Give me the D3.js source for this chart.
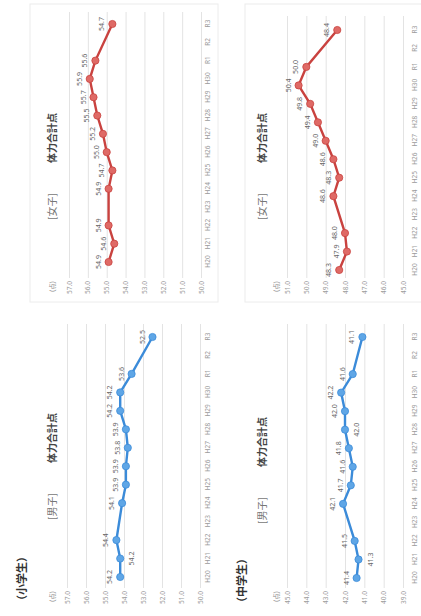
<!DOCTYPE html>
<html lang="ja">
<head>
<meta charset="UTF-8">
<title></title>
<style type="text/css">
  body { margin:0; background:#fff; }
  svg { display:block; font-family:"Noto Sans CJK JP", "Noto Sans", sans-serif; }
  .grid line { stroke:#e3e3e3; }
  .grid text, .xAxis text { fill:#9b9b9b; font-size:6.5px; font-family:"Noto Sans", sans-serif; }
  .val { fill:#666; font-size:7px; font-family:"Noto Sans", sans-serif; }
</style>
</head>
<body>
<script src="https://d3js.org/d3.v7.min.js"></script>
<script>
    // survey years (no survey in H23 and R2)
    var categories = ['H20','H21','H22','H23','H24','H25','H26','H27','H28','H29','H30','R1','R2','R3'];

    var elemBoys    = [54.2, 54.2, 54.4, null, 54.1, 53.9, 53.9, 53.8, 53.9, 54.2, 54.2, 53.6, null, 52.5];
    var elemGirls   = [54.9, 54.6, 54.9, null, 54.9, 54.7, 55.0, 55.2, 55.5, 55.7, 55.9, 55.6, null, 54.7];
    var juniorBoys  = [41.4, 41.3, 41.5, null, 42.1, 41.7, 41.6, 41.8, 42.0, 42.0, 42.2, 41.6, null, 41.1];
    var juniorGirls = [48.3, 47.9, 48.0, null, 48.6, 48.3, 48.6, 49.0, 49.4, 49.8, 50.4, 50.0, null, 48.4];

    var elemTicks       = [50, 51, 52, 53, 54, 55, 56, 57];
    var juniorBoyTicks  = [39, 40, 41, 42, 43, 44, 45];
    var juniorGirlTicks = [45, 46, 47, 48, 49, 50, 51];

    var width = 421,
        height = 616,
        svg = d3.select('body').append('svg')
                .attr('width', width)
                .attr('height', height);

    // the scanned page lies on its side: draw it upright, then turn it
    var page = svg.append('g')
        .attr('transform', 'translate(0,' + height + ') rotate(-90)');

    var blue = { line:'#3b8bd9', dot:'#5fa6e6' },
        red  = { line:'#c9423f', dot:'#df6a66' };

    var charts = [
        { values: elemBoys, ticks: elemTicks, sex: '[男子]', col: blue, below: ['H21'],
          x0: 39, x1: 279, gx0: 28, gx1: 292, yTop: 67, yBot: 200, axisY: 205, titleX: 96, titleY: 56, unitY: 55, boxTop: 0 },
        { values: elemGirls, ticks: elemTicks, sex: '[女子]', col: red, below: [],
          x0: 354, x1: 592, gx0: 338, gx1: 604, yTop: 69, yBot: 201, axisY: 205, titleX: 396, titleY: 56, unitY: 55, boxTop: 30 },
        { values: juniorBoys, ticks: juniorBoyTicks, sex: '[男子]', col: blue, below: ['H21', 'H28'],
          x0: 38, x1: 279, gx0: 28, gx1: 292, yTop: 287, yBot: 403, axisY: 412, titleX: 92, titleY: 266, unitY: 279, boxTop: 0 },
        { values: juniorGirls, ticks: juniorGirlTicks, sex: '[女子]', col: red, below: [],
          x0: 346, x1: 586, gx0: 338, gx1: 600, yTop: 287, yBot: 403, axisY: 412, titleX: 396, titleY: 266, unitY: 279, boxTop: 245 }
    ];

    page.append('text')
        .attr('x', 10).attr('y', 26)
        .attr('font-size', 11).attr('font-weight', 'bold').attr('fill', '#333')
        .text('（小学生）');
    page.append('text')
        .attr('x', 8).attr('y', 246)
        .attr('font-size', 11).attr('font-weight', 'bold').attr('fill', '#333')
        .text('（中学生）');

    charts.forEach(renderChart);

    function renderChart(c) {
        var g = page.append('g');

        if (c.boxTop) {
            g.append('rect')
                .attr('x', c.gx0 - 24).attr('y', c.boxTop)
                .attr('width', 298).attr('height', 188)
                .attr('fill', 'none').attr('stroke', '#ececec');
        }

        var xScale = d3.scalePoint().domain(categories).range([c.x0, c.x1]);
        var yScale = d3.scaleLinear()
            .domain([d3.min(c.ticks), d3.max(c.ticks)])
            .range([c.yBot, c.yTop]);

        var yAxis = d3.axisLeft(yScale)
            .tickValues(c.ticks)
            .tickSize(-(c.gx1 - c.gx0))
            .tickPadding(3)
            .tickFormat(d3.format('.1f'));
        g.append('g')
            .attr('class', 'grid')
            .attr('transform', 'translate(' + c.gx0 + ',0)')
            .call(yAxis)
            .call(function(a) { a.select('.domain').remove(); });

        var xAxis = d3.axisBottom(xScale).tickSize(0).tickPadding(0);
        g.append('g')
            .attr('class', 'xAxis')
            .attr('transform', 'translate(0,' + c.axisY + ')')
            .call(xAxis)
            .call(function(a) { a.select('.domain').remove(); });

        g.append('text')
            .attr('x', c.gx0 - 3).attr('y', c.unitY)
            .attr('text-anchor', 'end')
            .attr('font-size', 6.5).attr('fill', '#8a8a8a')
            .text('(点)');

        var title = g.append('text')
            .attr('x', c.titleX).attr('y', c.titleY)
            .attr('font-size', 10);
        title.append('tspan').attr('fill', '#777').text(c.sex);
        title.append('tspan').attr('x', c.titleX + 57)
            .attr('fill', '#444').attr('font-weight', 'bold').text('体力合計点');

        var pts = categories.map(function(k, i) { return { k: k, v: c.values[i] }; })
            .filter(function(d) { return d.v != null; });

        var line = d3.line()
            .x(function(d) { return xScale(d.k); })
            .y(function(d) { return yScale(d.v); });

        g.append('path')
            .datum(pts)
            .attr('d', line)
            .attr('fill', 'none')
            .attr('stroke', c.col.line)
            .attr('stroke-width', 2.4);

        g.selectAll('circle')
            .data(pts)
            .enter()
            .append('circle')
            .attr('cx', function(d) { return xScale(d.k); })
            .attr('cy', function(d) { return yScale(d.v); })
            .attr('r', 3.6)
            .attr('fill', c.col.dot)
            .attr('stroke', c.col.line)
            .attr('stroke-width', 0.8);

        g.selectAll('text.val')
            .data(pts)
            .enter()
            .append('text')
            .attr('class', 'val')
            .attr('text-anchor', 'middle')
            .attr('x', function(d) { return xScale(d.k); })
            .attr('y', function(d) {
                return yScale(d.v) + (c.below.indexOf(d.k) >= 0 ? 14 : -8);
            })
            .text(function(d) { return d.v.toFixed(1); });
    }
</script>
</body>
</html>
